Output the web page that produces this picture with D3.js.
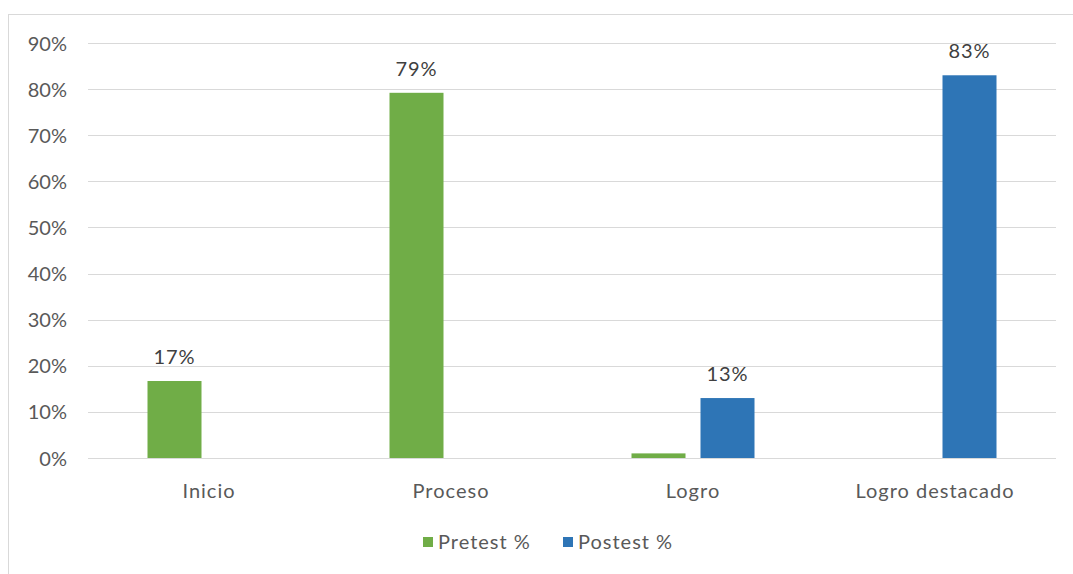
<!DOCTYPE html>
<html><head><meta charset="utf-8">
<script src="https://cdn.jsdelivr.net/npm/d3@7"></script>
<style>body{margin:0;background:#fff;} text{font-family:Lato,"Liberation Sans",sans-serif;}</style>
</head><body>
<svg id="c" width="1073" height="574"></svg>
<script>
const categories = ["Inicio", "Proceso", "Logro", "Logro destacado"];
const seriesNames = ["Pretest %", "Postest %"];
const pretest = [16.7, 79.2, 1, 0];
const postest = [0, 0, 13, 83];
const showLabel = [[true, true, false, false], [false, false, true, true]];
const yTicks = [0, 10, 20, 30, 40, 50, 60, 70, 80, 90];
const colors = ["#70AD47", "#2E75B6"];

(function () {
const svg = d3.select("#c");
svg.append("rect").attr("x", 8.5).attr("y", 14.5).attr("width", 1080).attr("height", 580)
  .attr("fill", "#fff").attr("stroke", "#D9D9D9");

const pL = 88, pR = 1056, pT = 43, pB = 458;
const x = d3.scaleBand().domain(categories).range([pL, pR]).paddingInner(0).paddingOuter(0);
const y = d3.scaleLinear().domain([0, 90]).range([pB, pT]);
const barW = 54, gap = 15;
const x1 = d3.scaleOrdinal().domain([0, 1]).range([-(barW + gap / 2), gap / 2]);

svg.append("g").selectAll("line").data(yTicks).join("line")
  .attr("x1", pL).attr("x2", pR)
  .attr("y1", d => Math.round(y(d)) + 0.5).attr("y2", d => Math.round(y(d)) + 0.5)
  .attr("stroke", "#D9D9D9").attr("stroke-width", 1);

const yAxis = d3.axisLeft(y).tickValues(yTicks).tickFormat(d => d + "%").tickSize(0).tickPadding(0);
const ga = svg.append("g").attr("transform", `translate(${pL - 21},0)`).call(yAxis);
ga.select(".domain").remove();
ga.selectAll("text").attr("font-size", 20).attr("fill", "#595959").attr("font-family", "Lato,'Liberation Sans',sans-serif").attr("dy", "0.35em");

const xAxis = d3.axisBottom(x).tickSize(0).tickPadding(0);
const gx = svg.append("g").attr("transform", `translate(0,${pB + 40})`).call(xAxis);
gx.select(".domain").remove();
gx.selectAll("text").attr("font-size", 20).attr("fill", "#595959").attr("letter-spacing", 1)
  .attr("font-family", "Lato,'Liberation Sans',sans-serif").attr("dy", "0em");

const series = [pretest, postest];
series.forEach((vals, si) => {
  const g = svg.append("g");
  const data = vals.map((v, i) => ({cat: categories[i], v, i}));
  g.selectAll("rect").data(data.filter(d => d.v > 0)).join("rect")
    .attr("x", d => x(d.cat) + x.bandwidth() / 2 + x1(si))
    .attr("width", barW)
    .attr("y", d => y(d.v))
    .attr("height", d => y(0) - y(d.v))
    .attr("fill", colors[si]);
  g.selectAll("text").data(data.filter(d => showLabel[si][d.i])).join("text")
    .attr("x", d => x(d.cat) + x.bandwidth() / 2 + x1(si) + barW / 2)
    .attr("y", d => y(d.v) - 17)
    .attr("text-anchor", "middle").attr("font-size", 20).attr("letter-spacing", 1).attr("fill", "#404040")
    .text(d => Math.round(d.v) + "%");
});

const legendX = [423, 563];
const lg = svg.append("g");
seriesNames.forEach((n, i) => {
  lg.append("rect").attr("x", legendX[i]).attr("y", 537).attr("width", 10).attr("height", 10).attr("fill", colors[i]);
  lg.append("text").attr("x", legendX[i] + 15).attr("y", 542).attr("dy", "0.35em")
    .attr("font-size", 20).attr("letter-spacing", 1).attr("fill", "#595959").text(n);
});
})();
</script>
</body></html>
